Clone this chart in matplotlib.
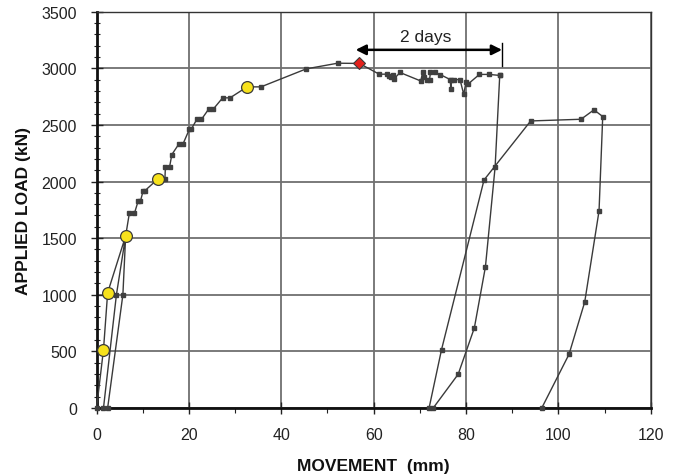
import matplotlib

matplotlib.use("Agg")
import matplotlib.pyplot as plt
from matplotlib.ticker import MultipleLocator

plt.rcParams["font.family"] = ["Liberation Sans", "DejaVu Sans"]

# first loading (incl. small cycle at 1500 kN) up to peak
load_x = [0, 1.5, 2.4, 6.3, 4.3, 1.5, 2.4, 5.7, 6.3, 7.1, 8.2, 9.0, 9.5, 10.1, 10.5,
          13.2, 14.8, 14.9, 15.8, 16.3, 17.8, 18.7, 20.1, 20.5, 21.7, 22.7, 24.3, 25.3,
          27.3, 28.9, 32.6, 35.6, 45.4, 52.2, 56.9]
load_y = [0, 515, 1018, 1520, 1000, 0, 0, 1000, 1520, 1720, 1720, 1826, 1826, 1920, 1920,
          2020, 2020, 2126, 2126, 2238, 2330, 2330, 2462, 2462, 2548, 2548, 2641, 2641,
          2739, 2739, 2836, 2836, 2995, 3045, 3043]

# held load over two days
hold_x = [56.9, 61.2, 62.8, 63.3, 63.8, 64.1, 64.4, 65.7, 70.2, 70.6, 71.0, 71.5, 72.1,
          72.3, 73.2, 74.4, 76.6, 76.7, 76.8, 77.3, 78.7, 79.5, 80.0, 80.5, 82.9, 85.0, 87.3]
hold_y = [3043, 2948, 2948, 2930, 2920, 2938, 2905, 2963, 2888, 2963, 2925, 2900, 2900,
          2963, 2963, 2945, 2900, 2815, 2900, 2900, 2900, 2770, 2880, 2863, 2946, 2946, 2937]

# unloading
unload_x = [87.3, 86.3, 84.2, 81.8, 78.3, 72.9]
unload_y = [2937, 2129, 1246, 707, 298, 0]

# reloading and final unloading
reload_x = [72.0, 74.7, 83.9, 94.0, 104.9, 107.7, 109.6, 108.8, 105.7, 102.3, 96.4]
reload_y = [0, 516, 2014, 2535, 2550, 2633, 2574, 1740, 936, 474, 0]

# yellow circles and peak marker
circ_x = [1.5, 2.4, 6.3, 13.2, 32.6]
circ_y = [515, 1018, 1520, 2020, 2836]
peak_x = [56.9]
peak_y = [3043]

LINE = "#3a3a3a"

fig = plt.figure(figsize=(6.8, 4.77), dpi=100)
ax = fig.add_axes([0.142, 0.1426, 0.815, 0.8308])

for xs, ys in [(load_x, load_y), (hold_x, hold_y), (unload_x, unload_y), (reload_x, reload_y)]:
    ax.plot(xs, ys, color=LINE, lw=1.0, marker="s", ms=3, mfc="#404040", mec="#404040",
            zorder=3, clip_on=False)

ax.plot(circ_x, circ_y, ls="none", marker="o", ms=8.5, mfc="#f7e21c", mec="#3a3a3a",
        mew=0.9, zorder=4, clip_on=False)
ax.plot(peak_x, peak_y, ls="none", marker="D", ms=6.5, mfc="#e3201b", mec="#3a3a3a",
        mew=0.8, zorder=4)

# "2 days" arrow
ax.annotate("", xy=(56.1, 3163), xytext=(87.8, 3163),
            arrowprops=dict(arrowstyle="<|-|>", color="black", lw=1.8,
                            mutation_scale=15, shrinkA=0, shrinkB=0), zorder=5)
ax.plot([87.8, 87.8], [3020, 3222], color="black", lw=1.0, zorder=5)
ax.text(71.3, 3281, "2 days", ha="center", va="center", fontsize=12.5, color="#222222")

ax.set_xlim(0, 120)
ax.set_ylim(0, 3500)
ax.xaxis.set_major_locator(MultipleLocator(20))
ax.xaxis.set_minor_locator(MultipleLocator(10))
ax.yaxis.set_major_locator(MultipleLocator(500))
ax.yaxis.set_minor_locator(MultipleLocator(100))

ax.grid(True, which="major", color="#707070", lw=1.3, zorder=1)
ax.set_axisbelow(True)

ax.tick_params(which="major", direction="inout", length=8, width=1.0, pad=10,
               labelsize=11.5, labelcolor="#222222", color="#222222")
ax.tick_params(axis="x", which="minor", direction="out", length=3.5, width=0.8, color="#222222")
ax.tick_params(axis="y", which="minor", direction="inout", length=4, width=0.8, color="#222222")

for side in ["left", "bottom"]:
    ax.spines[side].set_linewidth(2.0)
    ax.spines[side].set_color("#111111")
for side in ["top", "right"]:
    ax.spines[side].set_linewidth(1.0)
    ax.spines[side].set_color("#333333")

ax.set_xlabel("MOVEMENT  (mm)", fontsize=12.5, fontweight="bold", labelpad=11, color="#111111")
ax.set_ylabel("APPLIED LOAD (kN)", fontsize=12.5, fontweight="bold", labelpad=8, color="#111111")

fig.savefig("out.png", dpi=100)
